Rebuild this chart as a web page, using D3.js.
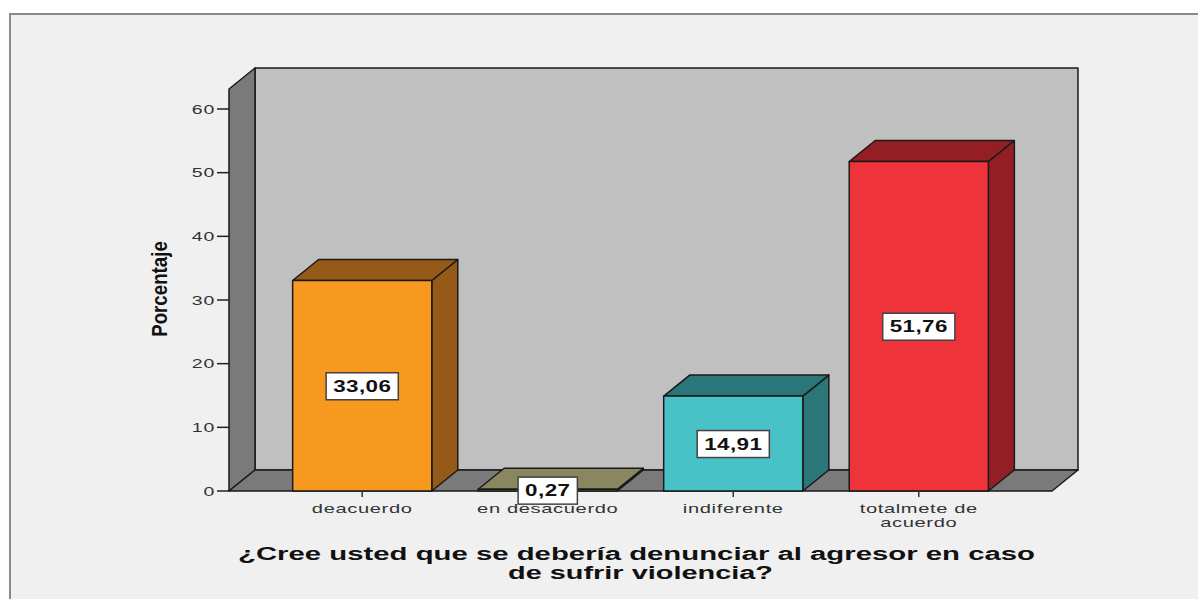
<!DOCTYPE html>
<html>
<head>
<meta charset="utf-8">
<script src="https://cdn.jsdelivr.net/npm/d3@7"></script>
<style>
  html, body { margin: 0; padding: 0; background: #fff; }
  svg { display: block; }
</style>
</head>
<body>
<div id="chart"></div>
<script>
const categories = ["deacuerdo", "en desacuerdo", "indiferente", "totalmete de acuerdo"];
const categoryLines = [["deacuerdo"], ["en desacuerdo"], ["indiferente"], ["totalmete de", "acuerdo"]];
const values = [33.06, 0.27, 14.91, 51.76];
const valueLabels = ["33,06", "0,27", "14,91", "51,76"];
const frontColors = ["#F7981F", "#8A8660", "#48C2C6", "#EF333A"];
const sideColors = ["#955A17", "#6E6B48", "#2B7678", "#931F24"];
const yTicks = [0, 10, 20, 30, 40, 50, 60];

const width = 1198, height = 599;
const dx = 26, dy = 21;
const floorLeft = 229, floorRight = 1052, wallTop = 89;
const font = "Liberation Sans, Arial, sans-serif";

const svg = d3.select("#chart").append("svg")
  .attr("width", width).attr("height", height);

// panel background + frame
svg.append("rect").attr("x", 0).attr("y", 0).attr("width", width).attr("height", height).attr("fill", "#fff");
svg.append("rect").attr("x", 10).attr("y", 14).attr("width", width).attr("height", height)
  .attr("fill", "#F0F0F0").attr("stroke", "#8a8a8a").attr("stroke-width", 2);

const y = d3.scaleLinear().domain([0, 60]).range([491, 109]);
const x = d3.scaleBand().domain(categories)
  .range([floorLeft, floorRight]).paddingInner(0.25).paddingOuter(0.343);

const y0 = y(0);
const pts = p => p.map(d => d.join(",")).join(" ");

// text that is stretched sideways like the original export
function wideText(g, tx, ty, sx, str) {
  return g.append("text").attr("transform", `translate(${tx},${ty}) scale(${sx},1)`)
    .attr("font-family", font).text(str);
}

// walls
const walls = svg.append("g").attr("stroke", "#1a1a1a").attr("stroke-width", 1.5).attr("stroke-linejoin", "round");
walls.append("rect")
  .attr("x", floorLeft + dx).attr("y", wallTop - dy)
  .attr("width", floorRight - floorLeft).attr("height", y0 - wallTop)
  .attr("fill", "#C0C0C0");
walls.append("polygon")
  .attr("points", pts([[floorLeft, wallTop], [floorLeft + dx, wallTop - dy], [floorLeft + dx, y0 - dy], [floorLeft, y0]]))
  .attr("fill", "#7A7A7A");
walls.append("polygon")
  .attr("points", pts([[floorLeft, y0], [floorLeft + dx, y0 - dy], [floorRight + dx, y0 - dy], [floorRight, y0]]))
  .attr("fill", "#7A7A7A");

// y ticks
const yAxis = svg.append("g");
yTicks.forEach(t => {
  yAxis.append("line").attr("x1", floorLeft - 12).attr("x2", floorLeft)
    .attr("y1", y(t)).attr("y2", y(t)).attr("stroke", "#222").attr("stroke-width", 1.5);
  wideText(yAxis, floorLeft - 14, y(t) + 4.5, 1.5, t)
    .attr("text-anchor", "end").attr("font-size", 13).attr("letter-spacing", 0.5).attr("fill", "#333");
});

// bars
const bars = svg.append("g").selectAll("g").data(categories).join("g")
  .attr("stroke", "#1a1a1a").attr("stroke-width", 1.5).attr("stroke-linejoin", "round");
bars.each(function(c, i) {
  const g = d3.select(this);
  const x0 = x(c), x1 = x(c) + x.bandwidth(), top = y(values[i]);
  g.append("polygon")
    .attr("points", pts([[x1, top], [x1 + dx, top - dy], [x1 + dx, y0 - dy], [x1, y0]]))
    .attr("fill", sideColors[i]);
  g.append("polygon")
    .attr("points", pts([[x0, top], [x0 + dx, top - dy], [x1 + dx, top - dy], [x1, top]]))
    .attr("fill", values[i] < 1 ? frontColors[i] : sideColors[i]);
  g.append("rect").attr("x", x0).attr("y", top).attr("width", x1 - x0).attr("height", y0 - top)
    .attr("fill", frontColors[i]);
});

// x ticks and labels
const xAxis = svg.append("g");
categories.forEach((c, i) => {
  const cx = x(c) + x.bandwidth() / 2;
  xAxis.append("line").attr("x1", cx).attr("x2", cx).attr("y1", y0).attr("y2", y0 + 6)
    .attr("stroke", "#333").attr("stroke-width", 1.5);
  categoryLines[i].forEach((line, k) => {
    wideText(xAxis, cx, 513 + k * 14, 1.55, line)
      .attr("text-anchor", "middle").attr("font-size", 13).attr("letter-spacing", 0.4).attr("fill", "#333");
  });
});

// value labels
categories.forEach((c, i) => {
  const cx = x(c) + x.bandwidth() / 2;
  const cy = (y(values[i]) + y0) / 2;
  const lbl = svg.append("g");
  const txt = wideText(lbl, cx, cy + 6, 1.4, valueLabels[i])
    .attr("text-anchor", "middle").attr("font-weight", "bold").attr("font-size", 16)
    .attr("letter-spacing", 0.3).attr("fill", "#111");
  const w = txt.node().getBBox().width * 1.4;
  lbl.insert("rect", "text").attr("x", cx - w / 2 - 7).attr("y", cy - 13).attr("width", w + 14).attr("height", 27)
    .attr("fill", "#fff").attr("stroke", "#444").attr("stroke-width", 1.5);
});

// axis titles
svg.append("text").attr("transform", "translate(167,289) rotate(-90) scale(1.1,1.3)")
  .attr("text-anchor", "middle").attr("font-family", font)
  .attr("font-weight", "bold").attr("font-size", 17).attr("fill", "#111").text("Porcentaje");

const title = svg.append("g").attr("font-family", font).attr("font-weight", "bold")
  .attr("font-size", 18).attr("fill", "#111");
title.append("text").attr("x", 238).attr("y", 560)
  .attr("textLength", 797).attr("lengthAdjust", "spacingAndGlyphs")
  .text("¿Cree usted que se debería denunciar al agresor en caso");
title.append("text").attr("x", 508).attr("y", 579)
  .attr("textLength", 265).attr("lengthAdjust", "spacingAndGlyphs")
  .text("de sufrir violencia?");
</script>
</body>
</html>
